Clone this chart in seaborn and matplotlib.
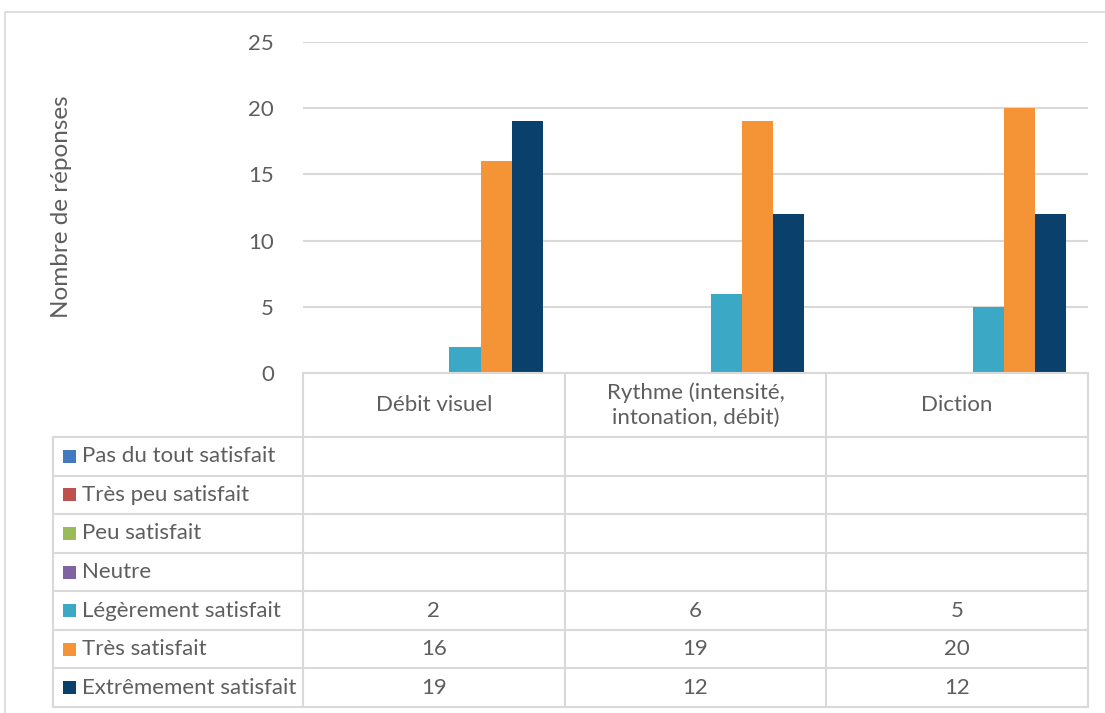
import numpy as np
import pandas as pd
import matplotlib
matplotlib.use("Agg")
import matplotlib.pyplot as plt
from matplotlib.patches import Rectangle
import seaborn as sns

# Survey answers per criterion
categories = ["Débit visuel", "Rythme (intensité,\nintonation, débit)", "Diction"]
series_names = ["Pas du tout satisfait", "Très peu satisfait", "Peu satisfait", "Neutre",
                "Légèrement satisfait", "Très satisfait", "Extrêmement satisfait"]
pas_du_tout = [None, None, None]
tres_peu = [None, None, None]
peu = [None, None, None]
neutre = [None, None, None]
legerement = [2, 6, 5]
tres = [16, 19, 20]
extremement = [19, 12, 12]
series_values = [pas_du_tout, tres_peu, peu, neutre, legerement, tres, extremement]
y_ticks = [0, 5, 10, 15, 20, 25]
y_label = "Nombre de réponses"

colors = ["#4279BF", "#C0504D", "#9BBB59", "#8064A2", "#3BA9C5", "#F59437", "#0A416C"]
grey_text = "#5E5E5E"
grid_col = "#D9D9D9"
FS = 16

sns.set_theme(style="white")
plt.rcParams["font.family"] = ["Lato", "DejaVu Sans"]

rows = []
for name, vals in zip(series_names, series_values):
    for cat, v in zip(categories, vals):
        if v is not None:
            rows.append({"cat": cat, "serie": name, "val": v})
df = pd.DataFrame(rows)

W, H = 1105, 713
fig = plt.figure(figsize=(W / 100, H / 100), dpi=100)

def fx(px):
    return px / W

def fy(py):
    return 1 - py / H

# Outer chart frame
fig.add_artist(Rectangle((fx(5), fy(716)), fx(1110) - fx(5), fy(12) - fy(716),
                         transform=fig.transFigure, fill=False, edgecolor=grid_col, lw=1.2))

x0, x1, ytop, ybot = 303, 1088, 42, 373
ax = fig.add_axes([fx(x0), fy(ybot), fx(x1) - fx(x0), fy(ytop) - fy(ybot)])
sns.barplot(data=df, x="cat", y="val", hue="serie", order=categories, hue_order=series_names,
            palette=colors, width=0.833, saturation=1, legend=False, ax=ax, errorbar=None,
            linewidth=0, edgecolor="none")
ax.set_xlim(-0.5, 2.5)
ax.set_ylim(0, 25)
ax.set_yticks(y_ticks)
ax.set_yticklabels([str(t) for t in y_ticks], fontsize=FS, color=grey_text)
ax.tick_params(axis="y", length=0, pad=21)
ax.set_xticks([])
ax.set_xlabel("")
ax.set_ylabel("")
for s in ax.spines.values():
    s.set_visible(False)
ax.yaxis.grid(True, color=grid_col, lw=1.5)
ax.set_axisbelow(True)
fig.text(fx(62), fy(207), y_label, rotation=90, ha="center", va="center",
         fontsize=17.5, color=grey_text)

# Data table below the plot
tl, tt, tb = 53, 373, 707
scale = (x1 - x0) / 3.0
xmin_t = -0.5 - (x0 - tl) / scale
tax = fig.add_axes([fx(tl), fy(tb), fx(x1) - fx(tl), fy(tt) - fy(tb)])
tax.set_xlim(xmin_t, 2.5)
tax.set_ylim(tb - tt, 0)
tax.axis("off")
header_h = 64
row_h = (tb - tt - header_h) / len(series_names)
lw = 1.5
# horizontal lines
tax.plot([-0.5, 2.5], [0, 0], color=grid_col, lw=lw, clip_on=False)
for i in range(len(series_names) + 1):
    yy = header_h + i * row_h
    tax.plot([xmin_t, 2.5], [yy, yy], color=grid_col, lw=lw, clip_on=False)
# vertical lines
for xv in [-0.5, 0.5, 1.5, 2.5]:
    tax.plot([xv, xv], [0, tb - tt], color=grid_col, lw=lw, clip_on=False)
tax.plot([xmin_t, xmin_t], [header_h, tb - tt], color=grid_col, lw=lw, clip_on=False)

for j, cat in enumerate(categories):
    tax.text(j, header_h / 2, cat, ha="center", va="center", fontsize=FS,
             color=grey_text, linespacing=1.3)

sw = 13 / scale
for i, (name, vals) in enumerate(zip(series_names, series_values)):
    yc = header_h + (i + 0.5) * row_h
    tax.add_patch(Rectangle((xmin_t + 10 / scale, yc - 6.5), sw, 13,
                            facecolor=colors[i], edgecolor="none", clip_on=False))
    tax.text(xmin_t + 29 / scale, yc, name, ha="left", va="center",
             fontsize=FS, color=grey_text)
    for j, v in enumerate(vals):
        if v is not None:
            tax.text(j, yc, str(v), ha="center", va="center", fontsize=FS, color=grey_text)

fig.savefig("out.png", dpi=100, facecolor="white")
